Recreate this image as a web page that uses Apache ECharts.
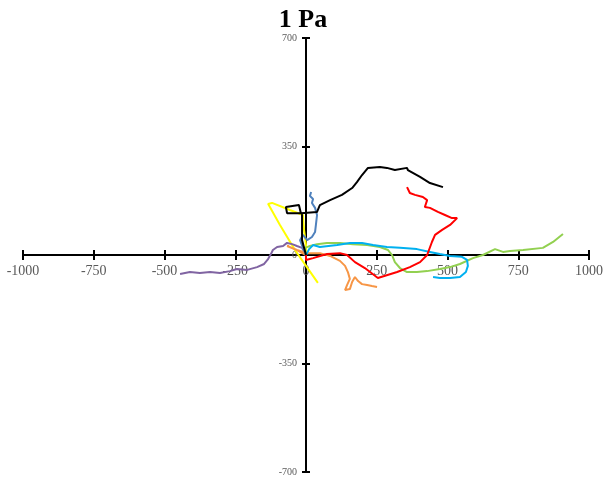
<!DOCTYPE html>
<html>
<head>
<meta charset="utf-8">
<script src="https://cdn.jsdelivr.net/npm/echarts@6/dist/echarts.min.js"></script>
<style>
  html, body { margin: 0; padding: 0; background: #fff; }
  #chart { width: 606px; height: 480px; }
</style>
</head>
<body>
<div id="chart"></div>
<script>
// axis settings
const xMin = -1000, xMax = 1000, xStep = 250
const yMin = -700, yMax = 700, yStep = 350

// traces, [x, y]
const yellowPath = [[0, 0], [0, 32], [-7, 81], [-11, 129], [-57, 145], [-120, 168], [-134, 165], [-92, 97], [-39, 16], [0, -35], [42, -90]]
const purplePath = [[0, 0], [-14, 23], [-32, 29], [-49, 35], [-67, 39], [-81, 29], [-102, 26], [-117, 16], [-124, 3], [-134, -13], [-148, -29], [-173, -39], [-208, -48], [-244, -45], [-269, -52], [-304, -58], [-339, -55], [-375, -58], [-410, -55], [-445, -61]]
const orangePath = [[0, 0], [-39, 19], [-67, 29], [-32, 16], [4, 6], [49, 6], [85, -3], [120, -19], [138, -35], [148, -55], [155, -77], [145, -97], [138, -113], [155, -110], [163, -87], [173, -71], [184, -84], [198, -94], [216, -97], [233, -100], [251, -103]]
const bluePath = [[0, 0], [-11, 23], [-21, 48], [-11, 65], [4, 48], [21, 58], [32, 74], [35, 97], [39, 129], [32, 152], [21, 168], [25, 181], [14, 190], [18, 203]]
const greenPath = [[0, 0], [-4, 23], [14, 29], [39, 35], [74, 39], [120, 39], [166, 35], [216, 32], [261, 26], [290, 16], [304, 0], [314, -23], [332, -42], [357, -55], [392, -55], [428, -52], [473, -45], [509, -39], [544, -29], [590, -10], [625, 0], [668, 19], [696, 10], [721, 13], [767, 16], [837, 23], [873, 42], [908, 68]]
const cyanPath = [[0, 0], [11, 19], [25, 32], [49, 26], [110, 32], [155, 39], [198, 39], [237, 32], [286, 26], [332, 23], [392, 19], [438, 10], [473, 3], [509, -3], [551, -6], [569, -16], [572, -35], [565, -55], [544, -71], [509, -74], [473, -74], [449, -71]]
const redPath = [[0, 0], [0, -16], [25, -10], [74, 3], [120, 6], [145, 0], [173, -23], [208, -42], [254, -74], [322, -55], [367, -39], [403, -23], [428, 0], [445, 42], [456, 65], [481, 81], [509, 97], [534, 119], [516, 119], [491, 129], [466, 139], [438, 152], [420, 155], [428, 177], [413, 187], [385, 194], [367, 200], [357, 219]]
const blackPath = [[0, 0], [-14, 48], [-14, 135], [-67, 135], [-71, 155], [-25, 161], [-18, 135], [39, 139], [49, 161], [85, 177], [127, 194], [163, 216], [180, 235], [198, 258], [219, 281], [261, 284], [286, 281], [314, 274], [357, 281], [360, 274], [403, 252], [438, 232], [484, 219]]

const traces = [
  { data: yellowPath, color: '#FFFF00' },
  { data: purplePath, color: '#8064A2' },
  { data: orangePath, color: '#F79646' },
  { data: bluePath, color: '#4F81BD' },
  { data: greenPath, color: '#92D050' },
  { data: cyanPath, color: '#00B0F0' },
  { data: redPath, color: '#FF0000' },
  { data: blackPath, color: '#000000' }
]

const labelFont = 'Liberation Serif, Times New Roman, serif'

// plot area
const gLeft = 23, gRight = 17, gTop = 38, gBottom = 8
const plotW = 606 - gLeft - gRight
const plotH = 480 - gTop - gBottom
// shift the axes from the grid edges to the zero lines (labels follow the line)
const xOffset = -plotH * (0 - yMin) / (yMax - yMin)
const yOffset = -plotW * (0 - xMin) / (xMax - xMin)

const tickStyle = { color: '#000', width: 2 }

const chart = echarts.init(document.getElementById('chart'))

chart.setOption({
  animation: false,
  title: {
    text: '1 Pa',
    left: 'center',
    top: 2,
    textStyle: {
      fontFamily: labelFont,
      fontWeight: 'bold',
      fontSize: 26,
      color: '#000'
    }
  },
  grid: {
    left: gLeft,
    right: gRight,
    top: gTop,
    bottom: gBottom
  },
  xAxis: [
    {
      type: 'value',
      position: 'bottom',
      offset: xOffset,
      min: xMin,
      max: xMax,
      interval: xStep,
      axisLine: { onZero: false, lineStyle: { color: '#000', width: 2 } },
      axisTick: { show: true, length: 5, lineStyle: tickStyle },
      axisLabel: {
        margin: 9,
        color: '#595959',
        fontFamily: labelFont,
        fontSize: 14,
        formatter: (v) => String(v)
      },
      splitLine: { show: false }
    },
    {
      // upper half of the cross ticks
      type: 'value',
      position: 'bottom',
      offset: xOffset,
      min: xMin,
      max: xMax,
      interval: xStep,
      axisLine: { show: false, onZero: false },
      axisTick: { show: true, inside: true, length: 5, lineStyle: tickStyle },
      axisLabel: { show: false },
      splitLine: { show: false }
    }
  ],
  yAxis: [
    {
      type: 'value',
      position: 'left',
      offset: yOffset,
      min: yMin,
      max: yMax,
      interval: yStep,
      axisLine: { onZero: false, lineStyle: { color: '#000', width: 2 } },
      axisTick: { show: true, length: 4, lineStyle: tickStyle },
      axisLabel: {
        margin: 9,
        color: '#595959',
        fontFamily: labelFont,
        fontSize: 10,
        formatter: (v) => String(v)
      },
      splitLine: { show: false }
    },
    {
      type: 'value',
      position: 'left',
      offset: yOffset,
      min: yMin,
      max: yMax,
      interval: yStep,
      axisLine: { show: false, onZero: false },
      axisTick: { show: true, inside: true, length: 4, lineStyle: tickStyle },
      axisLabel: { show: false },
      splitLine: { show: false }
    }
  ],
  series: traces.map((t) => ({
    type: 'line',
    data: t.data,
    showSymbol: false,
    symbol: 'none',
    lineStyle: { color: t.color, width: 2 },
    itemStyle: { color: t.color }
  }))
})
</script>
</body>
</html>
